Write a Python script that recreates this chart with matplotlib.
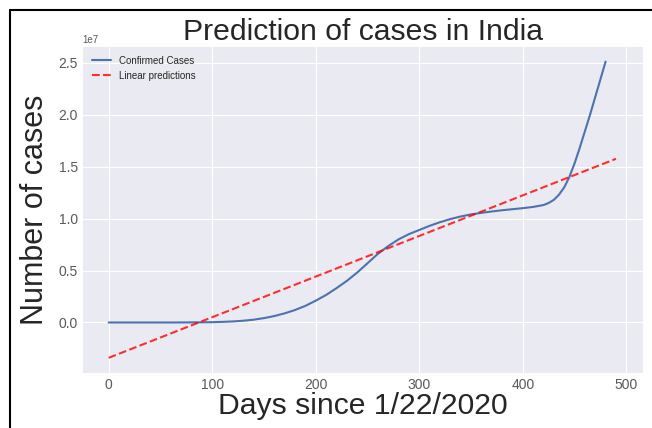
import matplotlib
matplotlib.use('Agg')
import matplotlib.pyplot as plt
from matplotlib.lines import Line2D

plt.style.use('seaborn-v0_8-darkgrid')
plt.rcParams['font.family'] = ['Liberation Sans', 'DejaVu Sans']

# confirmed cases in India (days since 1/22/2020)
days = [0, 20, 40, 60, 80, 100, 110, 120, 130, 140, 150, 160, 170, 180, 190,
        200, 210, 220, 230, 240, 250, 260, 270, 280, 290, 300, 310, 320, 330,
        340, 350, 360, 370, 380, 390, 400, 410, 420, 425, 430, 435, 440, 445,
        450, 455, 460, 465, 470, 475, 480]
confirmed = [0, 0, 0, 0, 0.001e7, 0.003e7, 0.006e7, 0.01e7, 0.017e7, 0.027e7,
             0.042e7, 0.062e7, 0.088e7, 0.12e7, 0.16e7, 0.21e7, 0.265e7,
             0.33e7, 0.40e7, 0.48e7, 0.57e7, 0.66e7, 0.735e7, 0.80e7, 0.85e7,
             0.89e7, 0.93e7, 0.965e7, 0.995e7, 1.02e7, 1.04e7, 1.055e7,
             1.068e7, 1.08e7, 1.09e7, 1.10e7, 1.112e7, 1.13e7, 1.15e7, 1.18e7,
             1.23e7, 1.30e7, 1.40e7, 1.53e7, 1.68e7, 1.84e7, 2.0e7, 2.17e7,
             2.34e7, 2.51e7]

# linear regression predictions (start and end of the fitted line)
pred_days = [0, 490]
pred_values = [-0.34e7, 1.575e7]

fig = plt.figure(figsize=(6.52, 4.28), dpi=100)
ax = fig.add_axes([0.127, 0.129, 0.859, 0.761])
ax.plot(days, confirmed, color='#4C72B0', lw=1.5, label='Confirmed Cases')
ax.plot(pred_days, pred_values, 'r--', lw=1.5, alpha=0.8, label='Linear predictions')
ax.set_xlim(-25, 516)
ax.set_ylim(-0.484e7, 2.65e7)
ax.set_xticks([0, 100, 200, 300, 400, 500])
ax.set_yticks([0, 0.5e7, 1.0e7, 1.5e7, 2.0e7, 2.5e7])
ax.tick_params(labelsize=10, labelcolor='0.35')
ax.yaxis.get_offset_text().set_fontsize(7)
ax.yaxis.get_offset_text().set_color('0.35')
ax.set_title('Prediction of cases in India', fontsize=21.7, color='0.15', pad=5)
ax.set_xlabel('Days since 1/22/2020', fontsize=21.7, color='0.15', labelpad=0)
ax.set_ylabel('Number of cases', fontsize=22, color='0.15', labelpad=6)
ax.legend(loc='upper left', fontsize=7, frameon=False)

# frame edges on the left and top
fig.add_artist(Line2D([10 / 652, 10 / 652], [0, 1 - 10 / 428], color='black', lw=1.5))
fig.add_artist(Line2D([10 / 652, 1], [1 - 10 / 428, 1 - 10 / 428], color='black', lw=1.5))

fig.savefig('out.png', dpi=100)
